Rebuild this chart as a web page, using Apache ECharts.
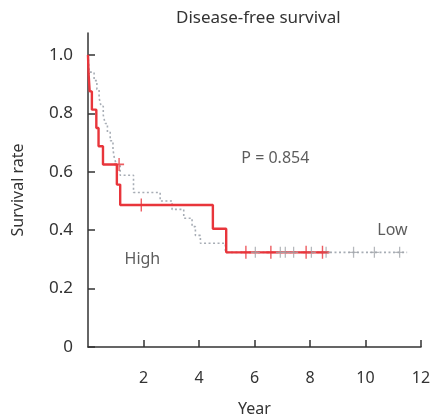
<!DOCTYPE html>
<html>
<head>
<meta charset="utf-8">
<script src="https://cdn.jsdelivr.net/npm/echarts@6/dist/echarts.min.js"></script>
<style>
  html, body { margin: 0; padding: 0; background: #fff; }
  #chart { width: 432px; height: 420px; }
</style>
</head>
<body>
<div id="chart"></div>
<script>
// High group (red, solid)
const highTimes = [0, 0.02, 0.06, 0.14, 0.30, 0.38, 0.54, 1.04, 1.16, 4.50, 4.98, 8.70];
const highSurv = [1, 0.9375, 0.875, 0.8125, 0.75, 0.6875, 0.625, 0.556, 0.486, 0.405, 0.324, 0.324];
const highCensorT = [1.12, 1.92, 5.69, 6.59, 7.86, 8.45];
const highCensorS = [0.625, 0.486, 0.324, 0.324, 0.324, 0.324];

// Low group (gray, dotted)
const lowTimes = [0, 0.04, 0.22, 0.32, 0.40, 0.47, 0.55, 0.62, 0.70, 0.80, 0.90, 0.95, 1.02, 1.16, 1.64, 2.60, 3.03, 3.45, 3.75, 3.87, 4.05, 4.95, 11.5];
const lowSurv = [1, 0.941, 0.912, 0.882, 0.853, 0.824, 0.794, 0.765, 0.735, 0.706, 0.676, 0.647, 0.625, 0.588, 0.529, 0.50, 0.471, 0.441, 0.412, 0.382, 0.355, 0.324, 0.324];
const lowCensorT = [6.03, 6.93, 7.11, 7.41, 8.05, 8.58, 9.57, 10.32, 11.23];
const lowCensorS = [0.324, 0.324, 0.324, 0.324, 0.324, 0.324, 0.324, 0.324, 0.324];

// axis ticks
const xTicks = [2, 4, 6, 8, 10, 12];
const yTicks = [0, 0.2, 0.4, 0.6, 0.8, 1.0];

// text notes placed in data space
const noteText = ['High', 'Low', 'P = 0.854'];
const noteX = [1.96, 10.97, 6.75];
const noteY = [0.30, 0.40, 0.646];

const zip = (a, b) => a.map((v, i) => [v, b[i]]);
// Kaplan-Meier staircase: hold previous level until next event time, then drop
const km = (t, s) => {
  const out = [[t[0], s[0]]];
  for (let i = 1; i < t.length; i++) {
    out.push([t[i], s[i - 1]]);
    out.push([t[i], s[i]]);
  }
  return out;
};
const plus = 'path://M4.3,0h1.4v10h-1.4z M0,4.35h10v1.3h-10z';
const font = 'Noto Sans';
const ink = '#333';

const chart = echarts.init(document.getElementById('chart'));
chart.setOption({
  animation: false,
  textStyle: { fontFamily: font },
  title: {
    text: 'Disease-free survival',
    left: 171, top: 5,
    textStyle: { fontFamily: font, fontSize: 17, fontWeight: 'normal', color: ink }
  },
  grid: { left: 88, right: 11, top: 33, bottom: 73, outerBoundsMode: 'none' },
  xAxis: {
    type: 'value', min: 0, max: 12,
    name: 'Year', nameLocation: 'middle', nameGap: 54,
    nameTextStyle: { fontSize: 16, color: ink, fontFamily: font },
    axisLine: { lineStyle: { color: ink, width: 1.5 } },
    axisTick: { inside: true, length: 7, customValues: xTicks, lineStyle: { color: ink, width: 1.5 } },
    axisLabel: { customValues: xTicks, margin: 23, fontSize: 16, color: ink, fontFamily: font },
    splitLine: { show: false }
  },
  yAxis: {
    type: 'value', min: 0, max: 1.075,
    name: 'Survival rate', nameLocation: 'middle', nameGap: 62,
    nameTextStyle: { fontSize: 16, color: ink, fontFamily: font },
    axisLine: { show: true, lineStyle: { color: ink, width: 1.5 } },
    axisTick: { show: true, inside: true, length: 7, customValues: yTicks, lineStyle: { color: ink, width: 1.5 } },
    axisLabel: {
      customValues: yTicks, margin: 15, fontSize: 17, color: ink, fontFamily: font,
      formatter: v => v === 0 ? '0' : v.toFixed(1)
    },
    splitLine: { show: false }
  },
  series: [
    {
      name: 'Low', type: 'line', showSymbol: false, z: 2,
      data: km(lowTimes, lowSurv),
      lineStyle: { color: '#a7adb5', width: 1.6, type: [2, 2.5] }
    },
    {
      name: 'High', type: 'line', showSymbol: false, z: 3,
      data: km(highTimes, highSurv),
      lineStyle: { color: '#e8353b', width: 2.4 }
    },
    {
      name: 'Low censored', type: 'scatter', z: 4,
      data: zip(lowCensorT, lowCensorS),
      symbol: plus, symbolKeepAspect: false, symbolSize: [9, 11],
      itemStyle: { color: '#a2a6ab' }
    },
    {
      name: 'High censored', type: 'scatter', z: 4,
      data: zip(highCensorT, highCensorS),
      symbol: plus, symbolKeepAspect: false, symbolSize: [10, 13],
      itemStyle: { color: '#e8353b' }
    },
    {
      name: 'notes', type: 'scatter', z: 5, symbolSize: 0, silent: true,
      data: noteText.map((t, i) => ({ name: t, value: [noteX[i], noteY[i]] })),
      label: {
        show: true, position: 'inside', formatter: '{b}',
        fontSize: 16, color: ink, fontFamily: font
      }
    }
  ]
});
</script>
</body>
</html>
